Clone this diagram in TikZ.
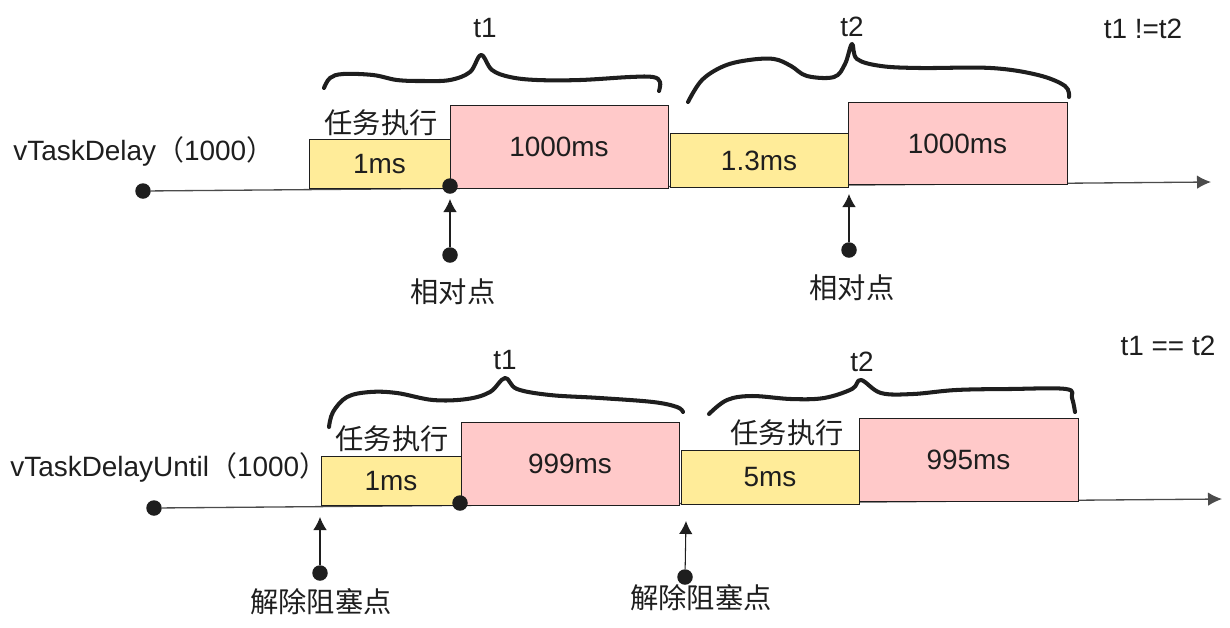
\documentclass[tikz,border=0pt]{standalone}
\usepackage{fontspec}
\setmainfont{Liberation Sans}
\newfontfamily\cjk{Noto Sans CJK SC}
\usetikzlibrary{arrows.meta}
\definecolor{inkblack}{HTML}{1E1E1E}
\definecolor{taskyellow}{HTML}{FFEC99}
\definecolor{delayred}{HTML}{FFC9C9}
\tikzset{
	lbl/.style={font=\fontsize{15.9}{18}\selectfont, text=inkblack, inner sep=0pt},
	cjklbl/.style={font=\fontsize{16.1}{18}\selectfont\cjk, text=inkblack, inner sep=0pt},
	taskbox/.style={lbl, draw=inkblack, line width=0.5pt, fill=taskyellow},
	delaybox/.style={lbl, draw=inkblack, line width=0.5pt, fill=delayred},
	dot/.style={circle, fill=inkblack, inner sep=0pt, minimum size=0.31cm},
	timeline/.style={draw=inkblack!80, line width=0.75pt, -{Latex[length=0.28cm,width=0.27cm]}},
	marker/.style={draw=inkblack, line width=0.6pt, -{Latex[length=0.26cm,width=0.27cm]}},
	curly/.style={draw=inkblack, line width=2.3pt, line cap=round, line join=round}
}

\begin{document}
\begin{tikzpicture}[x=0.02cm,y=-0.02cm]
	\useasboundingbox (0,0) rectangle (1230,627);
	\node[lbl,anchor=west] (nameA) at (13,151) {vTaskDelay{\cjk（}1000{\cjk）}};
	\node[dot] (startA) at (143,191) {};
	\coordinate (endA) at (1211,182);
	\draw[timeline] (startA) -- (endA);
	\node[taskbox,minimum width=2.82cm,minimum height=0.98cm] (taskA) at (379.5,164) {1ms};
	\node[delaybox,minimum width=4.36cm,minimum height=1.66cm] (waitA) at (559,147) {1000ms};
	\node[taskbox,minimum width=3.56cm,minimum height=1.08cm] (taskB) at (759,160.5) {1.3ms};
	\node[delaybox,minimum width=4.38cm,minimum height=1.64cm] (waitB) at (957.5,143.5) {1000ms};
	\node[dot] (pointA) at (450,186) {};
	\node[dot] (fromA) at (450,255) {};
	\coordinate (toA) at (450,199);
	\draw[marker] (fromA) -- (toA);
	\node[dot] (fromB) at (849,250) {};
	\coordinate (toB) at (849,194);
	\draw[marker] (fromB) -- (toB);
	\node[cjklbl] (workA) at (381,123) {任务执行};
	\node[cjklbl] (relA) at (453,292) {相对点};
	\node[cjklbl] (relB) at (852,288) {相对点};
	\node[lbl] (tA) at (485,28) {t1};
	\node[lbl] (tB) at (852,27) {t2};
	\node[lbl] (cmpA) at (1143,29) {t1 !=t2};
	\draw[curly] plot[smooth,tension=0.6] coordinates {(324,88) (330,78) (343,74) (373,75) (397,80) (423,81) (450,80) (470,72) (481,55) (492,70) (510,77) (537,80) (580,80) (630,77) (653,77) (660,82) (659,91)};
	\draw[curly] plot[smooth,tension=0.6] coordinates {(688,102) (702,80) (724,66) (749,60) (774,59) (791,66) (807,76) (834,77) (845,64) (852,44) (857,59) (881,66) (920,68) (991,68) (1038,75) (1065,86) (1069,97)};

	\node[lbl,anchor=west] (nameB) at (10,467) {vTaskDelayUntil{\cjk（}1000{\cjk）}};
	\node[dot] (startB) at (154,508) {};
	\coordinate (endB) at (1222,499);
	\draw[timeline] (startB) -- (endB);
	\node[taskbox,minimum width=2.80cm,minimum height=0.98cm] (taskC) at (391,481) {1ms};
	\node[delaybox,minimum width=4.36cm,minimum height=1.66cm] (waitC) at (570,464) {999ms};
	\node[taskbox,minimum width=3.56cm,minimum height=1.08cm] (taskD) at (770,477.5) {5ms};
	\node[delaybox,minimum width=4.38cm,minimum height=1.66cm] (waitD) at (968.5,460) {995ms};
	\node[dot] (pointB) at (460,503) {};
	\node[dot] (fromC) at (320,573) {};
	\coordinate (toC) at (320,517);
	\draw[marker] (fromC) -- (toC);
	\node[dot] (fromD) at (685,577) {};
	\coordinate (toD) at (686,521);
	\draw[marker] (fromD) -- (toD);
	\node[cjklbl] (workC) at (392,439) {任务执行};
	\node[cjklbl] (workD) at (787,433) {任务执行};
	\node[cjklbl] (freeC) at (321,602) {解除阻塞点};
	\node[cjklbl] (freeD) at (701,598) {解除阻塞点};
	\node[lbl] (tC) at (505,360) {t1};
	\node[lbl] (tD) at (862,362) {t2};
	\node[lbl] (cmpB) at (1168,346) {t1 == t2};
	\draw[curly] plot[smooth,tension=0.6] coordinates {(329,427) (333,412) (347,397) (370,392) (397,393) (433,400) (467,399) (490,392) (505,378) (517,389) (550,395) (600,398) (653,402) (677,407) (683,412)};
	\draw[curly] plot[smooth,tension=0.6] coordinates {(709,414) (727,400) (752,396) (791,399) (824,398) (852,389) (861,380) (881,393) (913,394) (956,390) (1009,389) (1066,389) (1072,398) (1075,412)};
\end{tikzpicture}
\end{document}
